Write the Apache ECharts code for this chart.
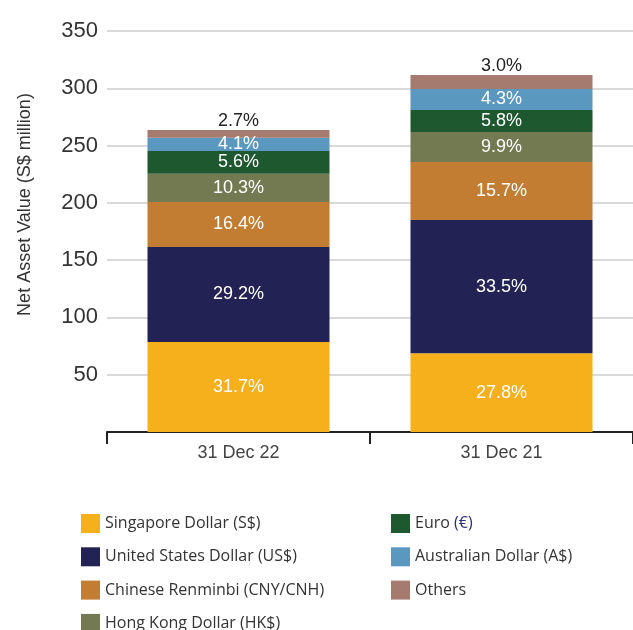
<!DOCTYPE html>
<html>
<head>
<meta charset="utf-8">
<script src="https://cdn.jsdelivr.net/npm/echarts@6/dist/echarts.min.js"></script>
<style>
  html, body { margin: 0; padding: 0; background: #fff; }
  #chart { width: 633px; height: 630px; }
</style>
</head>
<body>
<div id="chart"></div>
<script>
const categories = ['31 Dec 22', '31 Dec 21']

// S$ million
const sgd = [78.6, 68.7]
const usd = [82.9, 116.3]
const cny = [39.3, 50.7]
const hkd = [24.7, 26.2]
const eur = [19.8, 19.2]
const aud = [11.6, 18.3]
const others = [6.7, 12.2]

// printed shares
const sgdPct = ['31.7%', '27.8%']
const usdPct = ['29.2%', '33.5%']
const cnyPct = ['16.4%', '15.7%']
const hkdPct = ['10.3%', '9.9%']
const eurPct = ['5.6%', '5.8%']
const audPct = ['4.1%', '4.3%']
const othersPct = ['2.7%', '3.0%']

const yTicks = { min: 0, max: 350, interval: 50 }

const series = [
  { name: 'Singapore Dollar (S$)', data: sgd, pct: sgdPct, color: '#f5b01b' },
  { name: 'United States Dollar (US$)', data: usd, pct: usdPct, color: '#232255' },
  { name: 'Chinese Renminbi (CNY/CNH)', data: cny, pct: cnyPct, color: '#c27d32' },
  { name: 'Hong Kong Dollar (HK$)', data: hkd, pct: hkdPct, color: '#737a52' },
  { name: 'Euro (€)', data: eur, pct: eurPct, color: '#1e582f' },
  { name: 'Australian Dollar (A$)', data: aud, pct: audPct, color: '#5a98bf' },
  { name: 'Others', data: others, pct: othersPct, color: '#a57b70', top: true }
]

const chart = echarts.init(document.getElementById('chart'))

const legendText = {
  fontFamily: 'Open Sans', fontSize: 16, color: '#333',
  rich: { eu: { fontFamily: 'Open Sans', fontSize: 16, color: '#2b2f7a' } }
}
function legendFmt(name) {
  return name === 'Euro (€)' ? 'Euro {eu|(€)}' : name
}
function legend(left, names) {
  return {
    left: left, top: 514, height: 150, padding: 0,
    orient: 'vertical', icon: 'rect',
    itemWidth: 19, itemHeight: 19, itemGap: 14.3,
    textStyle: legendText, formatter: legendFmt,
    data: names
  }
}

chart.setOption({
  animation: false,
  textStyle: { fontFamily: 'Liberation Sans' },
  grid: { left: 107, right: 0, top: 31, bottom: 198 },
  legend: [
    legend(81, series.slice(0, 4).map(s => s.name)),
    legend(391, series.slice(4).map(s => s.name))
  ],
  xAxis: {
    type: 'category',
    data: categories,
    axisLine: { lineStyle: { color: '#222', width: 2 } },
    axisTick: { show: true, alignWithLabel: false, length: 12, lineStyle: { color: '#222', width: 2 } },
    axisLabel: { fontSize: 18, color: '#444', margin: 12 }
  },
  yAxis: {
    type: 'value',
    min: yTicks.min, max: yTicks.max, interval: yTicks.interval,
    name: 'Net Asset Value (S$ million)',
    nameLocation: 'middle',
    nameGap: 73,
    nameTextStyle: { fontSize: 18, color: '#333', padding: [0, 0, 0, 54] },
    axisLine: { show: false },
    axisTick: { show: false },
    axisLabel: { fontSize: 22, color: '#333', margin: 9, showMinLabel: false },
    splitLine: { lineStyle: { color: '#d9d9d9', width: 2 } }
  },
  series: series.map(s => ({
    name: s.name,
    type: 'bar',
    stack: 'nav',
    barWidth: 182,
    data: s.data,
    itemStyle: { color: s.color },
    label: {
      show: true,
      position: s.top ? 'top' : 'inside',
      distance: 0,
      fontSize: 18,
      color: s.top ? '#222' : '#fff',
      formatter: p => s.pct[p.dataIndex]
    }
  }))
})
</script>
</body>
</html>
